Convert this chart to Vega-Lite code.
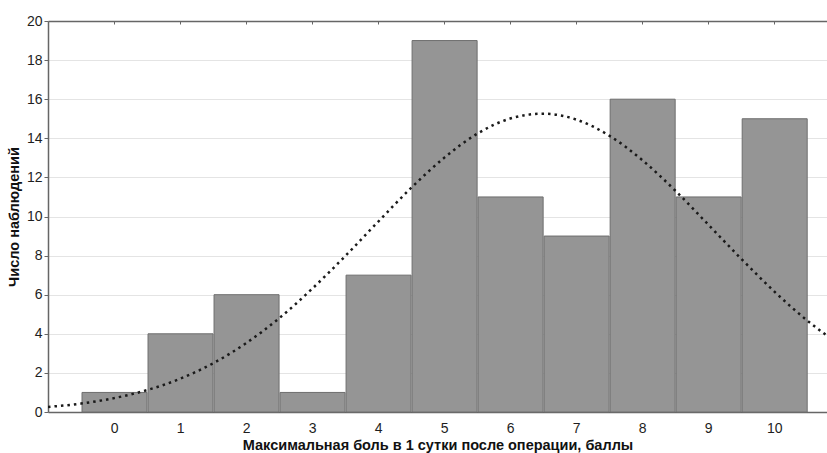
{
  "$schema": "https://vega.github.io/schema/vega-lite/v6.json",
  "width": 779,
  "height": 391,
  "autosize": {"type": "none"},
  "padding": {"left": 48, "top": 21, "right": 0, "bottom": 41},
  "background": "white",
  "config": {
    "view": {"stroke": null},
    "font": "Liberation Sans",
    "axis": {"labelFont": "Liberation Sans", "titleFont": "Liberation Sans", "labelColor": "#1e1e1e", "titleColor": "#111", "domainColor": "#666", "tickColor": "#666", "labelFontSize": 14, "titleFontSize": 14.5, "titleFontWeight": "bold"}
  },
  "datasets": {
    "hist": [
      {"score": 0, "lo": -0.5, "hi": 0.5, "count": 1},
      {"score": 1, "lo": 0.5, "hi": 1.5, "count": 4},
      {"score": 2, "lo": 1.5, "hi": 2.5, "count": 6},
      {"score": 3, "lo": 2.5, "hi": 3.5, "count": 1},
      {"score": 4, "lo": 3.5, "hi": 4.5, "count": 7},
      {"score": 5, "lo": 4.5, "hi": 5.5, "count": 19},
      {"score": 6, "lo": 5.5, "hi": 6.5, "count": 11},
      {"score": 7, "lo": 6.5, "hi": 7.5, "count": 9},
      {"score": 8, "lo": 7.5, "hi": 8.5, "count": 16},
      {"score": 9, "lo": 8.5, "hi": 9.5, "count": 11},
      {"score": 10, "lo": 9.5, "hi": 10.5, "count": 15}
    ],
    "curve": [
      {"x": -1, "y": 0.26}, {"x": -0.5, "y": 0.43}, {"x": 0, "y": 0.71}, {"x": 0.5, "y": 1.12},
      {"x": 1, "y": 1.70}, {"x": 1.5, "y": 2.49}, {"x": 2, "y": 3.52}, {"x": 2.5, "y": 4.79},
      {"x": 3, "y": 6.30}, {"x": 3.5, "y": 7.97}, {"x": 4, "y": 9.73}, {"x": 4.5, "y": 11.46},
      {"x": 5, "y": 13.00}, {"x": 5.5, "y": 14.23}, {"x": 6, "y": 15.01}, {"x": 6.5, "y": 15.26},
      {"x": 7, "y": 14.96}, {"x": 7.5, "y": 14.14}, {"x": 8, "y": 12.89}, {"x": 8.5, "y": 11.33},
      {"x": 9, "y": 9.59}, {"x": 9.5, "y": 7.84}, {"x": 10, "y": 6.17}, {"x": 10.5, "y": 4.68},
      {"x": 10.8, "y": 3.90}
    ]
  },
  "resolve": {"axis": {"x": "independent", "y": "independent"}},
  "layer": [
    {
      "data": {"name": "hist"},
      "mark": {"type": "bar", "fill": "#959595", "stroke": "#6e6e6e", "strokeWidth": 1},
      "encoding": {
        "x": {"field": "lo", "type": "quantitative", "bin": "binned",
              "scale": {"domain": [-1, 10.8], "nice": false, "zero": false},
              "axis": {"values": [0,1,2,3,4,5,6,7,8,9,10], "title": "Максимальная боль в 1 сутки после операции, баллы", "grid": false, "tickSize": -3, "labelPadding": 12, "titlePadding": 3, "domainWidth": 1.5}},
        "x2": {"field": "hi"},
        "y": {"field": "count", "type": "quantitative",
              "scale": {"domain": [0, 20], "nice": false},
              "axis": {"values": [0,2,4,6,8,10,12,14,16,18,20], "title": "Число наблюдений", "grid": true, "gridColor": "#e4e4e4", "tickSize": 4, "labelPadding": 2, "titlePadding": 5, "domainWidth": 1.5}}
      }
    },
    {
      "data": {"name": "curve"},
      "mark": {"type": "line", "color": "#1a1a1a", "strokeWidth": 2.5, "strokeDash": [2.5, 4], "interpolate": "monotone", "clip": true},
      "encoding": {
        "x": {"field": "x", "type": "quantitative",
              "scale": {"domain": [-1, 10.8], "nice": false, "zero": false},
              "axis": {"orient": "top", "values": [0,1,2,3,4,5,6,7,8,9,10], "labels": false, "title": null, "grid": false, "tickSize": -3, "domainWidth": 1.5}},
        "y": {"field": "y", "type": "quantitative",
              "scale": {"domain": [0, 20], "nice": false},
              "axis": null}
      }
    }
  ]
}
